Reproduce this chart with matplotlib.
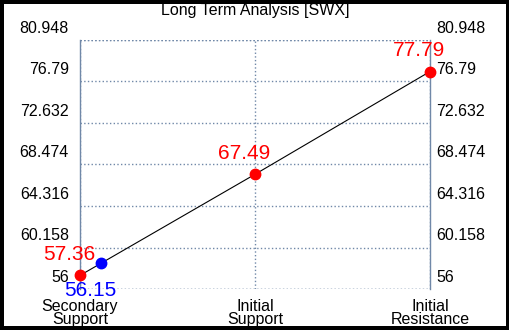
import numpy as np
import matplotlib
matplotlib.use('Agg')
import matplotlib.pyplot as plt

plt.rcParams['font.family'] = ['Liberation Sans', 'DejaVu Sans']

categories = ['Secondary\nSupport', 'Initial\nSupport', 'Initial\nResistance']
levels = [57.36, 67.49, 77.79]
level_labels = ['57.36', '67.49', '77.79']
price = 56.15
price_label = '56.15'
price_x = 0.12
y_ticks = [56, 60.158, 64.316, 68.474, 72.632, 76.79, 80.948]
y_tick_labels = ['56', '60.158', '64.316', '68.474', '72.632', '76.79', '80.948']

grid_col = '#7088a8'

fig = plt.figure(figsize=(5.1, 3.3), dpi=100, facecolor='white',
                 edgecolor='black', linewidth=4.5)
ax = fig.add_axes([80/510, 41/330, 350/510, 249/330])

x = np.arange(len(categories))
ax.plot(x, levels, color='black', lw=0.8, zorder=2)
ax.plot(x, levels, 'o', color='red', ms=7.5, clip_on=False, zorder=3)

# current price marker sits on the line
price_y = np.interp(price_x, x, levels)
ax.plot([price_x], [price_y], 'o', color='blue', ms=7.5, clip_on=False, zorder=3)

for xi, yi, lab in zip(x, levels, level_labels):
    ax.annotate(lab, (xi, yi), xytext=(-8, 15), textcoords='offset points',
                ha='center', va='center', color='red', fontsize=15)
ax.annotate(price_label, (price_x, price_y), xytext=(-8, -19.5),
            textcoords='offset points', ha='center', va='center',
            color='blue', fontsize=15)

ax.set_xlim(0, 2)
ax.set_ylim(56, 80.948)
ax.set_xticks(x)
ax.set_xticklabels(categories, fontsize=11.5, linespacing=0.85)
ax.set_yticks(y_ticks)
ax.set_yticklabels([])
ax.tick_params(axis='both', length=0)
ax.tick_params(axis='x', pad=7)

# y labels drawn a little above their grid lines, both sides
for v, lab in zip(y_ticks, y_tick_labels):
    ax.annotate(lab, (0, v), xycoords=('axes fraction', 'data'),
                xytext=(-8, 8.5), textcoords='offset points',
                ha='right', va='center', fontsize=11.5)
    ax.annotate(lab, (1, v), xycoords=('axes fraction', 'data'),
                xytext=(4.5, 8.5), textcoords='offset points',
                ha='left', va='center', fontsize=11.5)

ax.grid(True, color=grid_col, ls=':', lw=1)
for s in ['top', 'bottom']:
    ax.spines[s].set_visible(False)
for s in ['left', 'right']:
    ax.spines[s].set_color(grid_col)
    ax.spines[s].set_linewidth(1)
ax.axhline(56, color=grid_col, ls=':', lw=1)
ax.axhline(80.948, color=grid_col, ls=':', lw=1)

fig.text(0.5, 1 - 10/330, 'Long Term Analysis [SWX]', ha='center', va='center',
         fontsize=11.5)

fig.savefig('out.png', dpi=100)
